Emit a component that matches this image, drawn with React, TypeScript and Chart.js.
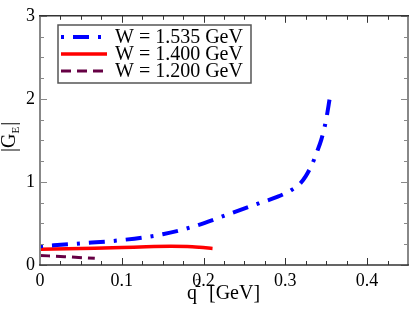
import React, { useEffect, useRef } from "react";
import { Chart, registerables } from "chart.js";

Chart.register(...registerables);

const q1535 = [0, 0.05, 0.1, 0.15, 0.19, 0.23, 0.27, 0.29, 0.307, 0.318, 0.325, 0.333, 0.339, 0.344, 0.348, 0.351, 0.354];
const g1535 = [0.225, 0.26, 0.3, 0.37, 0.47, 0.61, 0.75, 0.82, 0.9, 0.98, 1.07, 1.22, 1.37, 1.51, 1.66, 1.81, 1.99];
const q1400 = [0, 0.05, 0.1, 0.13, 0.16, 0.18, 0.195, 0.211];
const g1400 = [0.19, 0.2, 0.21, 0.22, 0.225, 0.222, 0.213, 0.2];
const q1200 = [0, 0.03, 0.067];
const g1200 = [0.115, 0.1, 0.08];

const seriesLabels = ["W = 1.535 GeV", "W = 1.400 GeV", "W = 1.200 GeV"];
const seriesColors = ["#0000ff", "#ff0000", "#660044"];
const xTickValues = [0, 0.1, 0.2, 0.3, 0.4];
const yTickValues = [0, 1, 2, 3];

const SERIF = '"Liberation Serif", "DejaVu Serif", serif';

const pts = (xs: number[], ys: number[]) => xs.map((x, i) => ({ x, y: ys[i] }));

const dashes = [[3, 9, 16, 9], [], [10, 6]];
const widths = [4, 3.5, 3];

const framePlugin = {
  id: "frame",
  afterDraw(chart: any) {
    const { ctx, chartArea: a, scales } = chart;
    const xs = scales.x;
    const ys = scales.y;
    ctx.save();
    for (let i = 0; i <= 18; i++) {
      const px = Math.round(xs.getPixelForValue(i * 0.025)) + 0.5;
      const len = i % 4 === 0 ? 7 : 4;
      ctx.strokeStyle = "#333";
      ctx.lineWidth = 1;
      ctx.beginPath();
      ctx.moveTo(px, a.bottom);
      ctx.lineTo(px, a.bottom - len);
      ctx.moveTo(px, a.top);
      ctx.lineTo(px, a.top + len);
      ctx.stroke();
    }
    for (let i = 0; i <= 12; i++) {
      const py = Math.round(ys.getPixelForValue(i * 0.25)) + 0.5;
      const len = i % 4 === 0 ? 7 : 4;
      ctx.strokeStyle = "#888";
      ctx.lineWidth = 1;
      ctx.beginPath();
      ctx.moveTo(a.left, py);
      ctx.lineTo(a.left + len, py);
      ctx.moveTo(a.right, py);
      ctx.lineTo(a.right - len, py);
      ctx.stroke();
    }
    ctx.lineWidth = 2;
    ctx.strokeStyle = "#888";
    ctx.beginPath();
    ctx.moveTo(a.left, a.top);
    ctx.lineTo(a.left, a.bottom);
    ctx.moveTo(a.right, a.top);
    ctx.lineTo(a.right, a.bottom);
    ctx.stroke();
    ctx.strokeStyle = "#333";
    ctx.lineWidth = 1.5;
    ctx.beginPath();
    ctx.moveTo(a.left - 1, a.top);
    ctx.lineTo(a.right + 1, a.top);
    ctx.moveTo(a.left - 1, a.bottom);
    ctx.lineTo(a.right + 1, a.bottom);
    ctx.stroke();

    // legend
    const lx = 58, ly = 25, lw = 193, lh = 58;
    ctx.fillStyle = "#fff";
    ctx.fillRect(lx, ly, lw, lh);
    ctx.strokeStyle = "#555";
    ctx.lineWidth = 1.5;
    ctx.strokeRect(lx, ly, lw, lh);
    const rows = [37, 54, 71];
    seriesLabels.forEach((lab, i) => {
      ctx.strokeStyle = seriesColors[i];
      ctx.lineWidth = widths[i];
      ctx.setLineDash(dashes[i]);
      ctx.beginPath();
      ctx.moveTo(61, rows[i]);
      ctx.lineTo(107, rows[i]);
      ctx.stroke();
      ctx.setLineDash([]);
      ctx.fillStyle = "#000";
      ctx.font = `20px ${SERIF}`;
      ctx.textBaseline = "middle";
      ctx.textAlign = "left";
      ctx.fillText(lab, 115, rows[i] + 1);
    });

    // x title: q^2 [GeV]
    ctx.fillStyle = "#000";
    ctx.textBaseline = "alphabetic";
    ctx.textAlign = "left";
    ctx.font = `20px ${SERIF}`;
    const xb = 299;
    let cx = 187;
    ctx.fillText("q", cx, xb);
    cx += ctx.measureText("q").width;
    ctx.font = `12px ${SERIF}`;
    ctx.fillText("2", cx - 2, xb - 12);
    cx += ctx.measureText("2").width + 4;
    ctx.font = `20px ${SERIF}`;
    ctx.fillText("[GeV]", cx + 2, xb);

    // y title |G_E|
    ctx.save();
    ctx.translate(15, 152);
    ctx.rotate(-Math.PI / 2);
    ctx.font = `20px ${SERIF}`;
    let tx = 0;
    ctx.fillText("|G", tx, 0);
    tx += ctx.measureText("|G").width;
    ctx.font = `11px ${SERIF}`;
    ctx.fillText("E", tx, 4);
    tx += ctx.measureText("E").width + 1;
    ctx.font = `20px ${SERIF}`;
    ctx.fillText("|", tx, 0);
    ctx.restore();

    ctx.restore();
  },
};

export default function App() {
  const ref = useRef<HTMLCanvasElement>(null);
  useEffect(() => {
    if (!ref.current) return;
    const chart = new Chart(ref.current, {
      type: "scatter",
      data: {
        datasets: [
          { data: pts(q1535, g1535) },
          { data: pts(q1400, g1400) },
          { data: pts(q1200, g1200) },
        ].map((d, i) => ({
          ...d,
          label: seriesLabels[i],
          showLine: true,
          borderColor: seriesColors[i],
          backgroundColor: seriesColors[i],
          borderWidth: widths[i],
          borderDash: dashes[i],
          pointRadius: 0,
          cubicInterpolationMode: "monotone" as const,
          fill: false,
        })),
      },
      options: {
        responsive: false,
        animation: false,
        layout: { padding: { left: 0, top: 7, right: 1, bottom: 0 } },
        plugins: { legend: { display: false }, tooltip: { enabled: false } },
        scales: {
          x: {
            type: "linear",
            min: 0,
            max: 0.45,
            grid: { display: false, drawTicks: false },
            border: { display: false },
            afterBuildTicks: (s: any) => {
              s.ticks = xTickValues.map((v) => ({ value: v }));
            },
            afterFit: (s: any) => {
              s.height = 49;
            },
            ticks: {
              padding: 5,
              color: "#000",
              font: { family: SERIF, size: 18 },
              maxRotation: 0,
              autoSkip: false,
              callback: (v: any) => String(v),
            },
          },
          y: {
            type: "linear",
            min: 0,
            max: 3,
            grid: { display: false, drawTicks: false },
            border: { display: false },
            afterBuildTicks: (s: any) => {
              s.ticks = yTickValues.map((v) => ({ value: v }));
            },
            afterFit: (s: any) => {
              s.width = 40;
            },
            ticks: {
              padding: 5,
              color: "#000",
              font: { family: SERIF, size: 18 },
              autoSkip: false,
              callback: (v: any) => String(v),
            },
          },
        },
      },
      plugins: [framePlugin],
    });
    return () => chart.destroy();
  }, []);
  return (
    <div style={{ position: "fixed", left: 0, top: 0, width: 409, height: 314, background: "#fff" }}>
      <canvas ref={ref} width={409} height={314} />
    </div>
  );
}
